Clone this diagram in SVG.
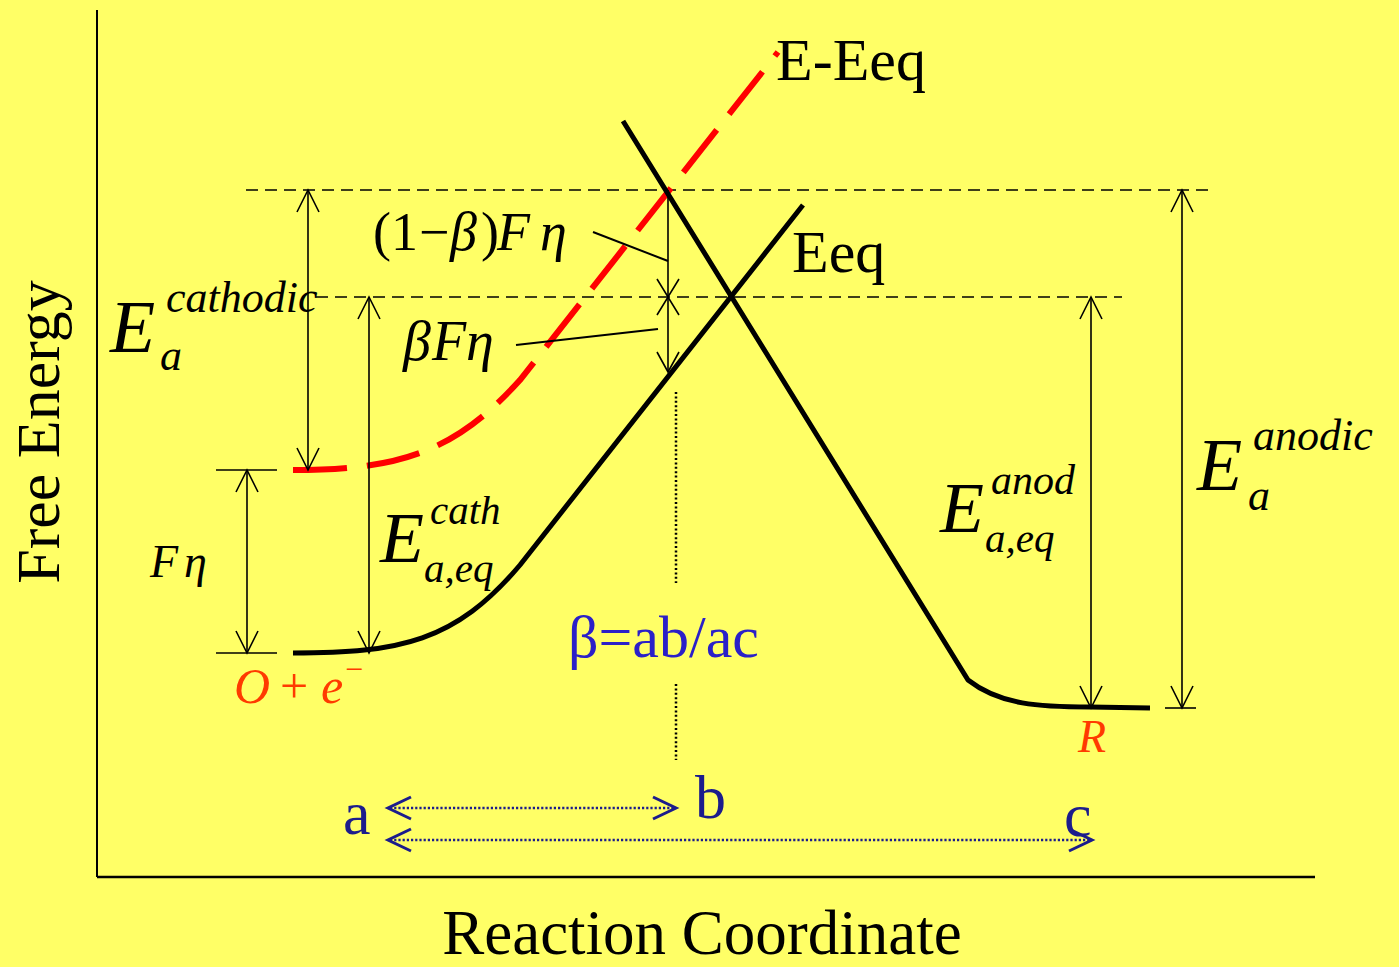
<svg xmlns="http://www.w3.org/2000/svg" width="1399" height="967" viewBox="0 0 1399 967" font-family="'Liberation Serif', 'Times New Roman', 'DejaVu Serif', serif">
<style>
text{font-family:"Liberation Serif","Times New Roman","DejaVu Serif",serif;}
.it{font-style:italic;}
.blk{fill:#000;}
.thin{stroke:#000;stroke-width:1.6;fill:none;}
.dash{stroke:#000;stroke-width:1.5;stroke-dasharray:12 7;fill:none;}
.curve{stroke:#000;stroke-width:5;fill:none;stroke-linejoin:round;}
.red{stroke:#FF0000;stroke-width:6;fill:none;stroke-dasharray:54 20;}
.navy{stroke:#1C1C8C;stroke-width:2.5;stroke-dasharray:2.2 2;fill:none;}
.navyhead{stroke:#1C1C8C;stroke-width:3;fill:none;}
.dot{stroke:#000;stroke-width:2.5;stroke-dasharray:2 2.4;fill:none;}
.orange{fill:#FF3A00;}
.nv{fill:#1C1C8C;}
</style>
<rect x="0" y="0" width="1399" height="967" fill="#FFFF66"/>

<g id="axes">
<line x1="97" y1="10" x2="97" y2="877" stroke="#000" stroke-width="2"/>
<line x1="97" y1="877" x2="1315" y2="877" stroke="#000" stroke-width="2.5"/>
<text class="blk" font-size="62" text-anchor="middle" transform="translate(59,432) rotate(-90)">Free Energy</text>
<text class="blk" font-size="63" x="702" y="954" text-anchor="middle">Reaction Coordinate</text>
</g>

<g id="guides">
<line class="dash" x1="246" y1="190" x2="1212" y2="190"/>
<line class="dash" x1="316" y1="297" x2="1122" y2="297"/>
<line class="dot" x1="676" y1="392" x2="676" y2="583"/>
<line class="dot" x1="676" y1="684" x2="676" y2="760"/>
</g>

<g id="connectors">
<path class="red" d="M293,470 C400,470 455,452 520,380 L778,52"/>
<path class="curve" d="M293,653 C400,653 455,642 520,565 L803,205"/>
<path class="curve" d="M623,121 L968,680 C1000,705 1040,707 1090,707 L1150,708"/>

<line class="thin" x1="308" y1="190" x2="308" y2="470"/>
<path class="thin" d="M297,212 L308,190 L319,212 M297,448 L308,470 L319,448"/>
<line class="thin" x1="369" y1="297" x2="369" y2="653"/>
<path class="thin" d="M358,319 L369,297 L380,319 M358,631 L369,653 L380,631"/>
<line class="thin" x1="216" y1="470" x2="277" y2="470"/>
<line class="thin" x1="216" y1="653" x2="277" y2="653"/>
<line class="thin" x1="247" y1="470" x2="247" y2="653"/>
<path class="thin" d="M236,492 L247,470 L258,492 M236,631 L247,653 L258,631"/>
<line class="thin" x1="668" y1="190" x2="668" y2="372"/>
<path class="thin" d="M657,279 L668,297 L679,279 M657,315 L668,297 L679,315 M657,352 L668,372 L679,352"/>
<line x1="593" y1="232" x2="668" y2="261" stroke="#000" stroke-width="2"/>
<line x1="516" y1="345" x2="658" y2="329" stroke="#000" stroke-width="2.2"/>
<line class="thin" x1="1091" y1="297" x2="1091" y2="708"/>
<path class="thin" d="M1080,319 L1091,297 L1102,319 M1080,686 L1091,708 L1102,686"/>
<line class="thin" x1="1182" y1="190" x2="1182" y2="708"/>
<line class="thin" x1="1165" y1="708" x2="1196" y2="708"/>
<path class="thin" d="M1171,212 L1182,190 L1193,212 M1171,686 L1182,708 L1193,686"/>
<line class="navy" x1="390" y1="808" x2="674" y2="808"/>
<path class="navyhead" d="M411,797 L388,808 L411,819 M653,797 L676,808 L653,819"/>
<line class="navy" x1="390" y1="840" x2="1090" y2="840"/>
<path class="navyhead" d="M411,829 L388,840 L411,851 M1069,829 L1092,840 L1069,851"/>
</g>

<g id="label-EEeq"><text class="blk" font-size="60" x="776" y="80">E-Eeq</text></g>
<g id="label-Eeq"><text class="blk" font-size="60" x="792" y="272">Eeq</text></g>

<g id="label-1mbFeta">
<text class="blk" font-size="54" y="250"><tspan x="373">(1</tspan><tspan x="419">−</tspan><tspan x="450" class="it">β</tspan><tspan x="481">)</tspan><tspan x="497" class="it">F</tspan><tspan x="540" class="it">η</tspan></text>
</g>
<g id="label-bFeta">
<text class="blk it" font-size="56" y="360"><tspan x="403">β</tspan><tspan x="432">F</tspan><tspan x="466">η</tspan></text>
</g>

<g id="label-Ea-cathodic">
<text class="blk it" font-size="74" x="110" y="352">E</text>
<text class="blk it" font-size="44" x="166" y="312">cathodic</text>
<text class="blk it" font-size="44" x="160" y="370">a</text>
</g>

<g id="label-Eaeq-cath">
<text class="blk it" font-size="72" x="380" y="562">E</text>
<text class="blk it" font-size="41" x="430" y="524">cath</text>
<text class="blk it" font-size="41" x="424" y="582">a,eq</text>
</g>

<g id="label-Eaeq-anod">
<text class="blk it" font-size="72" x="940" y="532">E</text>
<text class="blk it" font-size="42" x="991" y="494">anod</text>
<text class="blk it" font-size="41" x="985" y="552">a,eq</text>
</g>

<g id="label-Ea-anodic">
<text class="blk it" font-size="74" x="1197" y="490">E</text>
<text class="blk it" font-size="44" x="1253" y="450">anodic</text>
<text class="blk it" font-size="44" x="1248" y="510">a</text>
</g>

<g id="label-Feta">
<text class="blk it" font-size="46" y="577"><tspan x="150">F</tspan><tspan x="184">η</tspan></text>
</g>

<g id="label-Oe">
<text class="orange" font-size="50" y="703"><tspan x="234" class="it">O</tspan><tspan x="280">+</tspan><tspan x="321" class="it">e</tspan></text>
<text class="orange" font-size="32" x="345" y="680">−</text>
</g>

<g id="label-R"><text class="orange it" font-size="46" x="1078" y="752">R</text></g>

<g id="label-beta"><text font-size="60" x="568" y="657" fill="#2B20C8">β=ab/ac</text></g>

<g id="label-a"><text class="nv" font-size="62" x="343" y="834">a</text></g>
<g id="label-b"><text class="nv" font-size="62" x="695" y="818">b</text></g>
<g id="label-c"><text class="nv" font-size="62" x="1064" y="836">c</text></g>
</svg>
